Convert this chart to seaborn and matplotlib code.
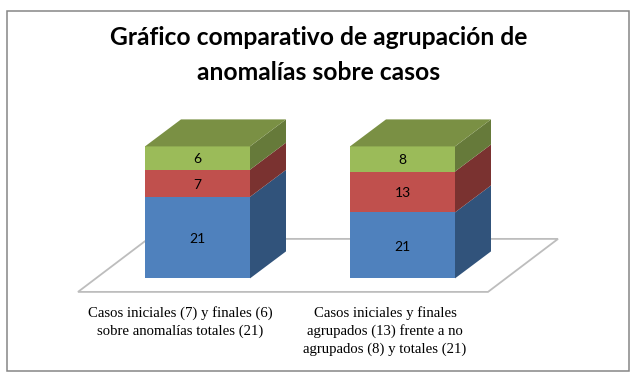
import numpy as np
import pandas as pd
import matplotlib
matplotlib.use('Agg')
import matplotlib.pyplot as plt
from matplotlib.patches import Polygon, Rectangle
import seaborn as sns

categories = ['Casos iniciales (7) y finales (6)\nsobre anomalías totales (21)',
              'Casos iniciales y finales\nagrupados (13) frente a no\nagrupados (8) y totales (21)']
bar_ids = ['a', 'b']
azul = [21, 21]
rojo = [7, 13]
verde = [6, 8]
title = 'Gráfico comparativo de agrupación de\nanomalías sobre casos'

W, H = 636, 378
front = {'azul': '#4F81BD', 'rojo': '#C0504D', 'verde': '#9BBB59'}
side = {'azul': '#31537B', 'rojo': '#7A3230', 'verde': '#667A3A'}
top_col = '#7A9044'

sns.set_theme(style='white')

fig = plt.figure(figsize=(W / 100, H / 100), dpi=100, facecolor='white')
fig.add_artist(Rectangle((6.5 / W, 1 - 371 / H), 622 / W, 360 / H, transform=fig.transFigure,
                         fill=False, edgecolor='#868686', lw=1.1))

# axes box: floor front edge in x, bar bottom/top in y
ax = fig.add_axes([78 / W, 1 - 278.4 / H, 410 / W, 132 / H])
ax.patch.set_alpha(0)

totals = np.array(azul) + np.array(rojo) + np.array(verde)
df = pd.DataFrame({'bar': bar_ids, 'azul': azul / totals, 'rojo': rojo / totals, 'verde': verde / totals})

width = 105 / 205
bottom = np.zeros(2)
segs = []
for name in ['azul', 'rojo', 'verde']:
    sns.barplot(data=df, x='bar', y=name, color=front[name], saturation=1, width=width,
                bottom=bottom, ax=ax, zorder=3, linewidth=0)
    segs.append((name, bottom.copy(), df[name].values.copy()))
    bottom = bottom + df[name].values

ax.set_xlim((78 - 197.5) / 205, (488 - 197.5) / 205)
ax.set_ylim(0, 1)

# fake 3d depth
dx = 36 / 205
dy = 27 / 132
for name, bot, hgt in segs:
    for i in range(2):
        xr = i + width / 2
        ax.add_patch(Polygon([(xr, bot[i]), (xr + dx, bot[i] + dy), (xr + dx, bot[i] + hgt[i] + dy),
                              (xr, bot[i] + hgt[i])], facecolor=side[name], edgecolor='none',
                             zorder=3, clip_on=False))
for i in range(2):
    xl = i - width / 2
    xr = i + width / 2
    ax.add_patch(Polygon([(xl, 1), (xr, 1), (xr + dx, 1 + dy), (xl + dx, 1 + dy)],
                         facecolor=top_col, edgecolor='none', zorder=3, clip_on=False))

# floor
y_front = (278 - 291.5) / 132
y_back = (278 - 238.5) / 132
x_fl = (78 - 197.5) / 205
x_fr = (488 - 197.5) / 205
x_br = (558 - 197.5) / 205
x_bl = (148 - 197.5) / 205
ax.add_patch(Polygon([(x_fl, y_front), (x_fr, y_front), (x_br, y_back), (x_bl, y_back)],
                     facecolor='white', edgecolor='#BDBDBD', lw=1.3, zorder=1, clip_on=False))

# values on the bars
for name, bot, hgt in segs:
    raw = {'azul': azul, 'rojo': rojo, 'verde': verde}[name]
    for i in range(2):
        ax.annotate(str(raw[i]), (i, bot[i] + hgt[i] / 2), xytext=(0, -1), textcoords='offset points',
                    ha='center', va='center', fontsize=10, family='Lato', color='black', zorder=5)

ax.set_xticks([0 - 17.5 / 205, 1 - 17.5 / 205])
ax.set_xticklabels(categories, family='Liberation Serif', fontsize=10.6, color='black', linespacing=1.42)
ax.tick_params(axis='x', length=0, pad=20)
ax.set_yticks([])
ax.set_xlabel('')
ax.set_ylabel('')
sns.despine(ax=ax, left=True, bottom=True)

fig.text(318.5 / W, 1 - 55 / H, title, ha='center', va='center', fontsize=17.7, fontweight='bold',
         family='Lato', color='black', linespacing=1.63)

fig.savefig('out.png', dpi=100, facecolor='white')
